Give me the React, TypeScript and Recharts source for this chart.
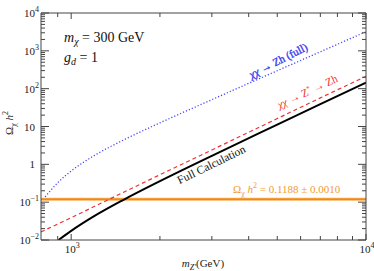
import React from "react";
import { LineChart, Line, XAxis, YAxis, ReferenceLine } from "recharts";

// values (m_Z' in GeV, relic density Omega h^2)
const fullX = [906, 1000, 1200, 1500, 2000, 3000, 5000, 7000, 10000];
const fullY = [0.01, 0.0174, 0.0432, 0.114, 0.36, 1.68, 11.2, 38.9, 145];

const zstarX = [790, 1000, 1500, 2000, 3000, 5000, 7000, 10000];
const zstarY = [0.0164, 0.039, 0.18, 0.53, 2.4, 16.2, 57, 212];

const zhX = [816, 900, 1000, 1200, 1500, 2000, 3000, 5000, 7000, 10000];
const zhY = [0.138, 0.326, 0.665, 1.72, 4.34, 12.5, 51.2, 298, 942, 3200];

const relicValue = 0.1188;

const xTicks = [900, 1000, 2000, 3000, 4000, 5000, 6000, 7000, 8000, 9000, 10000];
const yDecades = [0.01, 0.1, 1, 10, 100, 1000];
const yMantissas = [1, 2, 3, 4, 5, 6, 7, 8, 9];
const yTicks = [...yDecades.flatMap((d) => yMantissas.map((m) => +(m * d).toPrecision(3))), 10000];

const toPoints = (xs: number[], ys: number[]) => xs.map((x, i) => ({ x, y: ys[i] }));
const fullData = toPoints(fullX, fullY);
const zstarData = toPoints(zstarX, zstarY);
const zhData = toPoints(zhX, zhY);

const FONT = "'Liberation Serif', 'DejaVu Serif', serif";
const FRAME = "#444";

const exponentOf = (v: number) => Math.round(Math.log10(v));
const isMajor = (v: number) => Math.abs(Math.log10(v) - exponentOf(v)) < 1e-6;

const PowerLabel = ({ v, ...rest }: any) => {
  const e = exponentOf(v);
  if (e === 0 || e === 1) {
    return (
      <text {...rest} fontFamily={FONT} fontSize={11} fill="#222">
        {e === 0 ? "1" : "10"}
      </text>
    );
  }
  return (
    <text {...rest} fontFamily={FONT} fontSize={11} fill="#222">
      10
      <tspan dy={-5} fontSize={8}>
        {e < 0 ? `\u2212${-e}` : e}
      </tspan>
    </text>
  );
};

const BottomTick = (props: any) => {
  const { x, y, payload } = props;
  const major = isMajor(payload.value);
  return (
    <g>
      <line x1={x} y1={y} x2={x} y2={y - (major ? 6 : 4)} stroke={FRAME} />
      {major && <PowerLabel v={payload.value} x={x + 1} y={y + 13} textAnchor="middle" />}
    </g>
  );
};

const TopTick = (props: any) => {
  const { x, y, payload } = props;
  const major = isMajor(payload.value);
  return <line x1={x} y1={y} x2={x} y2={y + (major ? 6 : 4)} stroke={FRAME} />;
};

const LeftTick = (props: any) => {
  const { x, y, payload } = props;
  const major = isMajor(payload.value);
  const e = exponentOf(payload.value);
  const plain = e === 0 || e === 1;
  return (
    <g>
      <line x1={x} y1={y} x2={x + (major ? 8 : 4)} y2={y} stroke={FRAME} />
      {major && (
        <PowerLabel v={payload.value} x={x - (plain ? 6 : 2)} y={y + 4} textAnchor="end" />
      )}
    </g>
  );
};

const RightTick = (props: any) => {
  const { x, y, payload } = props;
  const major = isMajor(payload.value);
  return <line x1={x} y1={y} x2={x - (major ? 8 : 4)} y2={y} stroke={FRAME} />;
};

const Annotations = () => (
  <svg
    width={374}
    height={271}
    style={{ position: "absolute", left: 0, top: 0, pointerEvents: "none" }}
    fontFamily={FONT}
  >
    <text x={64} y={42} fontSize={14} fill="#111">
      <tspan fontStyle="italic">m</tspan>
      <tspan fontStyle="italic" fontSize={10} dy={3}>
        χ
      </tspan>
      <tspan dy={-3}> = 300 GeV</tspan>
    </text>
    <text x={64} y={62} fontSize={14} fill="#111">
      <tspan fontStyle="italic">g</tspan>
      <tspan fontStyle="italic" fontSize={10} dy={3}>
        d
      </tspan>
      <tspan dy={-3}> = 1</tspan>
    </text>

    <text
      x={280}
      y={64}
      fontSize={11}
      fill="#3a3aee"
      stroke="#3a3aee"
      strokeWidth={0.35}
      textAnchor="middle"
      transform="rotate(-27 280 64)"
    >
      <tspan fontStyle="italic">χχ</tspan> → Zh (full)
    </text>
    <text
      x={309}
      y={95}
      fontSize={11}
      fill="#f03030"
      textAnchor="middle"
      transform="rotate(-25 309 95)"
    >
      <tspan fontStyle="italic">χχ</tspan> → Z
      <tspan dy={-4} fontSize={7}>
        *
      </tspan>
      <tspan dy={4}> → Zh</tspan>
    </text>
    <text
      x={213}
      y={168}
      fontSize={11.5}
      fill="#111"
      textAnchor="middle"
      transform="rotate(-26 213 168)"
    >
      Full Calculation
    </text>

    <text x={233} y={193} fontSize={11} fill="#f39a2e">
      Ω
      <tspan fontSize={8} dy={3}>
        χ
      </tspan>
      <tspan dy={-3} fontStyle="italic">
        {" "}h
      </tspan>
      <tspan dy={-5} fontSize={8}>
        2
      </tspan>
      <tspan dy={5}> = 0.1188 ± 0.0010</tspan>
    </text>

    <text
      x={13}
      y={123}
      fontSize={11}
      fill="#222"
      textAnchor="middle"
      transform="rotate(-90 13 123)"
    >
      Ω
      <tspan fontSize={8} dy={3}>
        χ
      </tspan>
      <tspan dy={-3} fontStyle="italic">
        {" "}h
      </tspan>
      <tspan dy={-5} fontSize={8}>
        2
      </tspan>
    </text>

    <text x={203} y={267} fontSize={11} fill="#222" textAnchor="middle">
      <tspan fontStyle="italic">m</tspan>
      <tspan fontStyle="italic" fontSize={8} dy={3}>
        Z′
      </tspan>
      <tspan dy={-3}>(GeV)</tspan>
    </text>
  </svg>
);

export default function App() {
  return (
    <div style={{ position: "absolute", left: 0, top: 0, width: 374, height: 271, background: "#fff" }}>
      <LineChart width={374} height={271} margin={{ top: 0, right: 0, bottom: 0, left: 0 }}>
        <XAxis
          dataKey="x"
          type="number"
          scale="log"
          domain={[790, 10000]}
          allowDataOverflow
          ticks={xTicks}
          interval={0}
          height={31}
          tickSize={0}
          tickMargin={0}
          tickLine={false}
          tick={<BottomTick />}
          axisLine={{ stroke: FRAME }}
        />
        <XAxis
          xAxisId="top"
          orientation="top"
          dataKey="x"
          type="number"
          scale="log"
          domain={[790, 10000]}
          allowDataOverflow
          ticks={xTicks}
          interval={0}
          height={13}
          tickSize={0}
          tickMargin={0}
          tickLine={false}
          tick={<TopTick />}
          axisLine={{ stroke: FRAME }}
        />
        <YAxis
          dataKey="y"
          type="number"
          scale="log"
          domain={[0.01, 10000]}
          allowDataOverflow
          ticks={yTicks}
          interval={0}
          width={41}
          tickSize={0}
          tickMargin={0}
          tickLine={false}
          tick={<LeftTick />}
          axisLine={{ stroke: FRAME }}
        />
        <YAxis
          yAxisId="right"
          orientation="right"
          dataKey="y"
          type="number"
          scale="log"
          domain={[0.01, 10000]}
          allowDataOverflow
          ticks={yTicks}
          interval={0}
          width={8}
          tickSize={0}
          tickMargin={0}
          tickLine={false}
          tick={<RightTick />}
          axisLine={{ stroke: FRAME }}
        />
        <ReferenceLine y={relicValue} stroke="#f9b05c" strokeWidth={3} />
        <ReferenceLine y={relicValue} stroke="#f08a10" strokeWidth={1.5} />
        <Line
          data={zhData}
          dataKey="y"
          type="monotone"
          stroke="#4444ff"
          strokeWidth={1.3}
          strokeDasharray="1.2 2"
          dot={false}
          isAnimationActive={false}
        />
        <Line
          data={zstarData}
          dataKey="y"
          type="monotone"
          stroke="#f03030"
          strokeWidth={1.2}
          strokeDasharray="4 3"
          dot={false}
          isAnimationActive={false}
        />
        <Line
          data={fullData}
          dataKey="y"
          type="monotone"
          stroke="#000"
          strokeWidth={2}
          dot={false}
          isAnimationActive={false}
        />
      </LineChart>
      <Annotations />
    </div>
  );
}
